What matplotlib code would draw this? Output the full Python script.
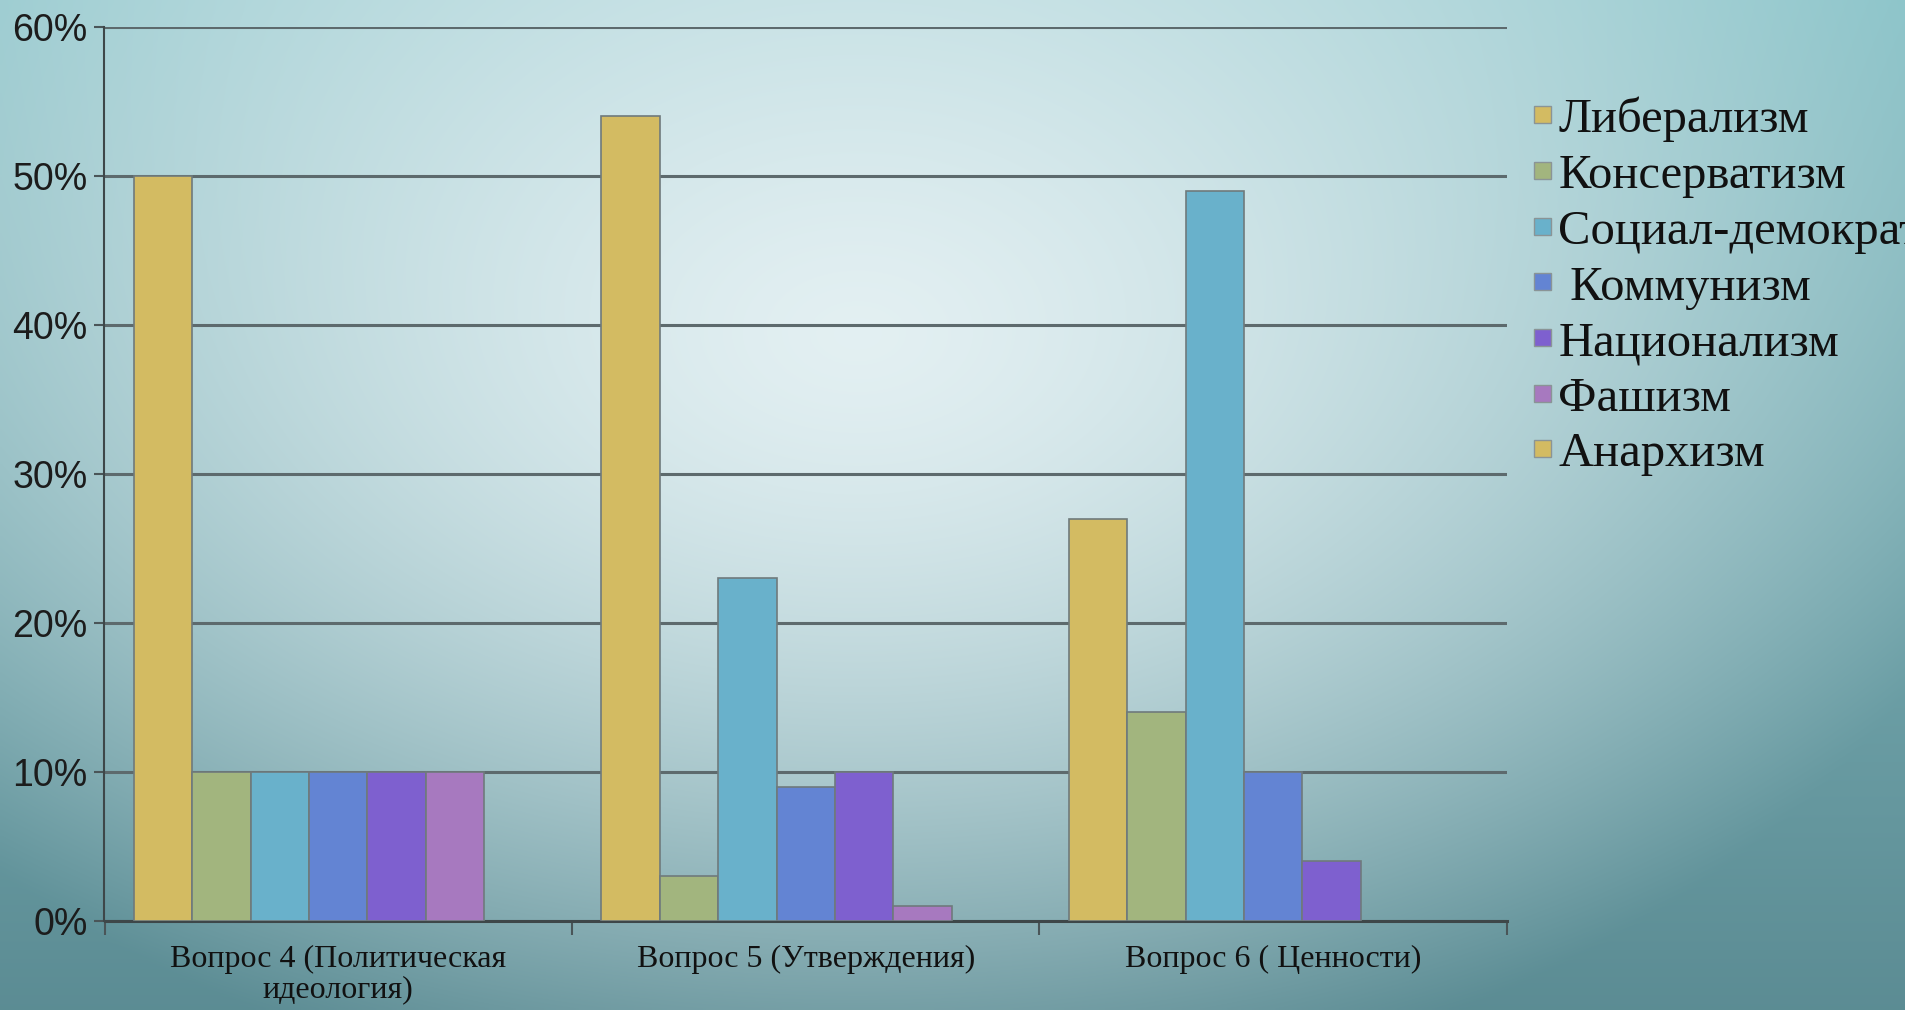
import numpy as np
import matplotlib
matplotlib.use("Agg")
import matplotlib.pyplot as plt
from matplotlib.patches import Patch

categories = ["Вопрос 4 (Политическая\nидеология)", "Вопрос 5 (Утверждения)", "Вопрос 6 ( Ценности)"]
series_names = ["Либерализм", "Консерватизм", "Социал-демократия", " Коммунизм",
                "Национализм", "Фашизм", "Анархизм"]
liberalism = [50, 54, 27]
conservatism = [10, 3, 14]
social_dem = [10, 23, 49]
communism = [10, 9, 10]
nationalism = [10, 10, 4]
fascism = [10, 1, 0]
anarchism = [0, 0, 0]
series_values = [liberalism, conservatism, social_dem, communism, nationalism, fascism, anarchism]
colors = ["#D3BB62", "#A2B57E", "#69B1CB", "#6384D3", "#7E60CF", "#A779BF", "#D3BB62"]
yticks = [0, 10, 20, 30, 40, 50, 60]
ytick_labels = ["0%", "10%", "20%", "30%", "40%", "50%", "60%"]

W, H = 1906, 1010
fig = plt.figure(figsize=(W / 100, H / 100), dpi=100)

# background gradient
bg = fig.add_axes([0, 0, 1, 1], zorder=-10)
yy, xx = np.mgrid[0:1:300j, 0:1:560j]
r = np.sqrt(((xx - 0.45) / 0.62) ** 2 + ((yy - 0.33) / 0.78) ** 2)
t = np.clip(r, 0, 1) ** 1.4
center = np.array([0.89, 0.94, 0.95])
edge_top = np.array([0.55, 0.77, 0.79])
edge_bot = np.array([0.36, 0.55, 0.58])
edge = edge_top[None, None, :] * (1 - yy[..., None]) + edge_bot[None, None, :] * yy[..., None]
img = center[None, None, :] * (1 - t[..., None]) + edge * t[..., None]
bg.imshow(img, extent=[0, 1, 1, 0], aspect="auto", interpolation="bilinear")
bg.set_xlim(0, 1)
bg.set_ylim(1, 0)
bg.axis("off")

ax = fig.add_axes([104.5 / W, 1 - 921 / H, (1507 - 104.5) / W, (921 - 26.7) / H])
ax.patch.set_alpha(0)

n = len(series_values)
w = 1.0 / 8
x = np.arange(len(categories))
for j, (vals, col, name) in enumerate(zip(series_values, colors, series_names)):
    lws = [1.2 if v > 0 else 0 for v in vals]
    ax.bar(x + (j - (n - 1) / 2) * w, vals, width=w, color=col,
           edgecolor="#6f7a7c", linewidth=lws, label=name, zorder=3)

ax.set_xlim(-0.5, 2.5)
ax.set_ylim(0, 60)
ax.set_yticks(yticks)
ax.set_yticklabels(ytick_labels, family="Liberation Sans", fontsize=27, color="#1c1c1c")
ax.yaxis.grid(True, color="#5d6a6d", linewidth=2.2, zorder=1)
ax.set_axisbelow(True)

ax.set_xticks([-0.5, 0.5, 1.5, 2.5])
ax.set_xticklabels([])
ax.set_xticks(x, minor=True)
ax.set_xticklabels(categories, minor=True, family="Liberation Serif", fontsize=23,
                   color="#111111", linespacing=1.05)
ax.tick_params(axis="x", which="major", length=10, width=1.5, color="#4a5558", direction="out")
ax.tick_params(axis="x", which="minor", length=0, pad=17)
ax.tick_params(axis="y", length=7, width=1.5, color="#4a5558", pad=5)

for s in ["top", "right"]:
    ax.spines[s].set_visible(False)
ax.spines["left"].set_color("#3e4749")
ax.spines["left"].set_linewidth(1.5)
ax.spines["bottom"].set_color("#3e4749")
ax.spines["bottom"].set_linewidth(2.2)

handles = [Patch(facecolor=c, edgecolor="#8a9496", linewidth=1.0) for c in colors]
leg = fig.legend(handles, series_names, loc="upper left", bbox_to_anchor=(1534 / W, 1 - 97 / H),
                 frameon=False, borderpad=0, borderaxespad=0,
                 prop={"family": "Liberation Serif", "size": 35},
                 handlelength=0.35, handleheight=0.16, handletextpad=0.15, labelspacing=0.24)
for txt in leg.get_texts():
    txt.set_color("#111111")

fig.savefig("out.png", dpi=100)
